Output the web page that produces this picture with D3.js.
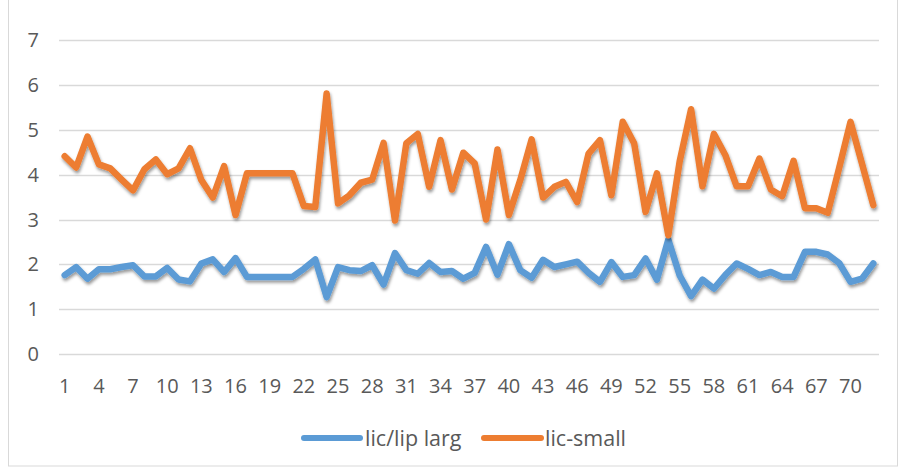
<!DOCTYPE html>
<html><head><meta charset="utf-8">
<script src="https://cdn.jsdelivr.net/npm/d3@7"></script>
<style>
html,body{margin:0;padding:0;background:#fff;}
svg{display:block;font-family:"Open Sans",sans-serif;}
</style></head>
<body><svg id="c" width="904" height="470"></svg>
<script>
const categories = d3.range(1, 73);
const xTickLabels = [1,4,7,10,13,16,19,22,25,28,31,34,37,40,43,46,49,52,55,58,61,64,67,70];
const yTickLabels = [0,1,2,3,4,5,6,7];
const seriesNames = ["lic/lip larg", "lic-small"];
const licLipLarg = [1.76,1.94,1.68,1.89,1.89,1.94,1.98,1.73,1.73,1.92,1.66,1.62,2.02,2.11,1.83,2.14,1.72,1.72,1.72,1.72,1.72,1.90,2.11,1.27,1.94,1.87,1.85,1.98,1.55,2.25,1.87,1.79,2.03,1.83,1.85,1.68,1.81,2.39,1.77,2.45,1.87,1.70,2.10,1.94,2.00,2.06,1.81,1.61,2.05,1.72,1.76,2.13,1.66,2.55,1.75,1.29,1.66,1.46,1.76,2.02,1.90,1.76,1.83,1.72,1.72,2.28,2.28,2.22,2.03,1.61,1.68,2.02];
const licSmall = [4.41,4.16,4.85,4.23,4.14,3.89,3.65,4.12,4.34,4.01,4.14,4.59,3.88,3.49,4.19,3.10,4.03,4.03,4.03,4.03,4.03,3.30,3.28,5.81,3.36,3.54,3.82,3.89,4.71,2.98,4.70,4.91,3.73,4.77,3.67,4.49,4.25,3.00,4.56,3.10,3.88,4.79,3.49,3.73,3.84,3.39,4.47,4.77,3.54,5.18,4.70,3.17,4.03,2.65,4.30,5.46,3.74,4.91,4.44,3.74,3.74,4.36,3.67,3.52,4.31,3.25,3.25,3.15,4.15,5.18,4.25,3.32];
const colors = ["#5B9BD5", "#ED7D31"];

const svg = d3.select("#c");
const defs = svg.append("defs");
const f = defs.append("filter").attr("id","sh").attr("x","-5%").attr("y","-20%").attr("width","110%").attr("height","140%");
f.append("feDropShadow").attr("dx",1).attr("dy",2.5).attr("stdDeviation",1.8).attr("flood-color","#000").attr("flood-opacity",0.4);

// chart border
svg.append("rect").attr("x",8.5).attr("y",-2).attr("width",889).attr("height",468)
  .attr("fill","none").attr("stroke","#d9d9d9").attr("stroke-width",1);

const x = d3.scalePoint().domain(categories).range([59, 879]).padding(0.5);
const y = d3.scaleLinear().domain([0, 7]).range([354, 40.2]);

// gridlines
svg.append("g").selectAll("line").data(yTickLabels).join("line")
  .attr("x1",59).attr("x2",879)
  .attr("y1",d=>Math.round(y(d))+0.5).attr("y2",d=>Math.round(y(d))+0.5)
  .attr("stroke","#d9d9d9").attr("stroke-width",1.3);

// y labels
svg.append("g").selectAll("text").data(yTickLabels).join("text")
  .attr("x",39).attr("y",d=>y(d)+7).attr("text-anchor","end")
  .attr("font-size",20).attr("fill","#595959").text(d=>d);

// x labels
svg.append("g").selectAll("text").data(xTickLabels).join("text")
  .attr("x",d=>x(d)).attr("y",393).attr("text-anchor","middle")
  .attr("font-size",20).attr("fill","#595959").text(d=>d);

const line = d3.line().x((d,i)=>x(categories[i])).y(d=>y(d));
[licLipLarg, licSmall].forEach((s,k)=>{
  svg.append("path").datum(s).attr("d",line).attr("fill","none")
    .attr("stroke",colors[k]).attr("stroke-width",6.5)
    .attr("stroke-linejoin","round").attr("stroke-linecap","round")
    .attr("filter","url(#sh)");
});

// legend
const leg = [{x1:304,x2:360,tx:365},{x1:484,x2:541,tx:545}];
leg.forEach((l,k)=>{
  svg.append("line").attr("x1",l.x1).attr("x2",l.x2).attr("y1",438).attr("y2",438)
    .attr("stroke",colors[k]).attr("stroke-width",6).attr("stroke-linecap","round");
  svg.append("text").attr("x",l.tx).attr("y",445.5).attr("font-size",21.5)
    .attr("fill","#595959").text(seriesNames[k]);
});
</script></body></html>
